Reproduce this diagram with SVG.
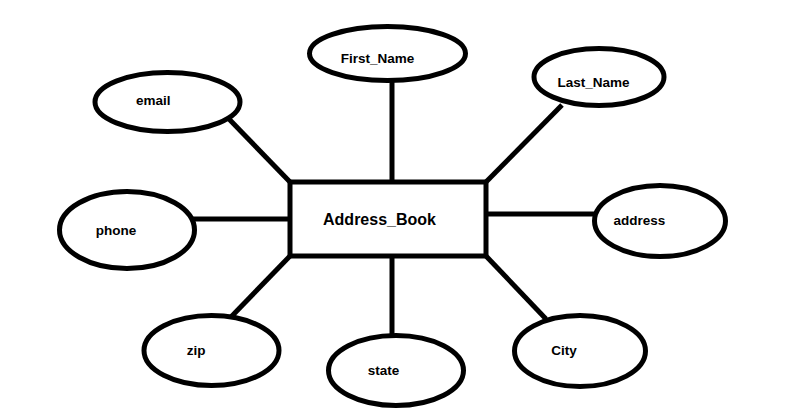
<svg xmlns="http://www.w3.org/2000/svg" width="811" height="416" viewBox="0 0 811 416">
<style>
.e{fill:#fff;stroke:#000;stroke-width:5}
.l{stroke:#000;stroke-width:5;fill:none}
.t{font-family:"Liberation Sans",Arial,sans-serif;font-size:13.5px;font-weight:bold;fill:#000;text-anchor:middle}
.m{font-family:"Liberation Sans",Arial,sans-serif;font-size:16px;font-weight:bold;fill:#000;text-anchor:middle}
</style>
<rect width="811" height="416" fill="#fff"/>
<g id="connectors">
<line class="l" x1="392" y1="80" x2="392" y2="182"/>
<line class="l" x1="229" y1="119" x2="290" y2="182"/>
<line class="l" x1="562" y1="105" x2="486" y2="182"/>
<line class="l" x1="192" y1="219" x2="290" y2="219"/>
<line class="l" x1="486" y1="214" x2="596" y2="214"/>
<line class="l" x1="290" y1="256" x2="230" y2="318"/>
<line class="l" x1="392" y1="256" x2="392" y2="336"/>
<line class="l" x1="486" y1="256" x2="546" y2="319"/>
</g>
<g id="Address_Book">
<rect class="e" x="290" y="182" width="196" height="74"/>
<text class="m" x="379.5" y="225">Address_Book</text>
</g>
<g id="First_Name">
<ellipse class="e" cx="387.5" cy="53.5" rx="78" ry="27"/>
<text class="t" x="377.5" y="63">First_Name</text>
</g>
<g id="email">
<ellipse class="e" cx="167.5" cy="102" rx="72.5" ry="29.5"/>
<text class="t" x="153.3" y="105">email</text>
</g>
<g id="Last_Name">
<ellipse class="e" cx="599" cy="77" rx="65" ry="28.5"/>
<text class="t" x="593.5" y="87">Last_Name</text>
</g>
<g id="phone">
<ellipse class="e" cx="127" cy="230" rx="67.5" ry="38.5"/>
<text class="t" x="116" y="235">phone</text>
</g>
<g id="address">
<ellipse class="e" cx="660" cy="221" rx="65.5" ry="35.5"/>
<text class="t" x="639.3" y="225">address</text>
</g>
<g id="zip">
<ellipse class="e" cx="211.5" cy="350.5" rx="67.5" ry="35"/>
<text class="t" x="196" y="355">zip</text>
</g>
<g id="state">
<ellipse class="e" cx="396" cy="370.5" rx="67.5" ry="35"/>
<text class="t" x="383.5" y="375">state</text>
</g>
<g id="City">
<ellipse class="e" cx="580" cy="351" rx="65.5" ry="35.5"/>
<text class="t" x="564" y="355">City</text>
</g>
</svg>
